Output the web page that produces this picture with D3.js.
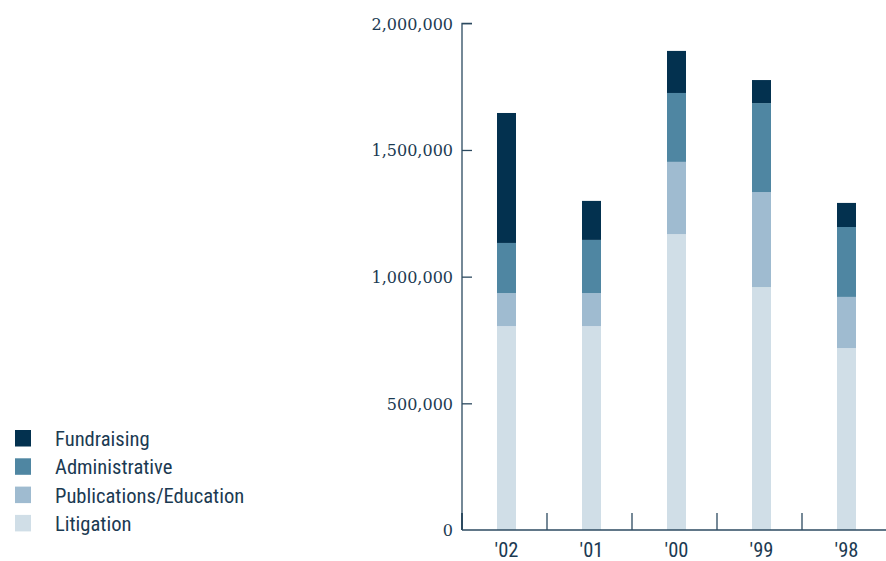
<!DOCTYPE html>
<html><head><meta charset="utf-8">
<script src="https://cdn.jsdelivr.net/npm/d3@7"></script>
<style>
body{margin:0;background:#fff;}
svg{display:block;}
</style></head>
<body>
<svg id="chart" width="886" height="561"></svg>
<script>
const years = ["'02","'01","'00","'99","'98"];
const seriesNames = ["Litigation","Publications/Education","Administrative","Fundraising"];
const litigation = [805000, 805000, 1168000, 959000, 718000];
const publications = [130000, 130000, 285000, 375000, 202000];
const administrative = [198000, 210000, 272000, 351000, 276000];
const fundraising = [513000, 154000, 166000, 91000, 95000];
const yTicks = [0, 500000, 1000000, 1500000, 2000000];
const colors = ["#d0dee7","#9fbbd0","#4f86a2","#03314f"];

const svg = d3.select("#chart");
const x0 = 462, x1 = 887, yBase = 530, yTop = 23.3;
const x = d3.scaleBand().domain(years).range([x0, x1]).paddingInner(0).paddingOuter(0);
const y = d3.scaleLinear().domain([0, 2000000]).range([yBase, yTop]);

const rows = years.map((yr,i)=>({year:yr, Litigation:litigation[i], "Publications/Education":publications[i], Administrative:administrative[i], Fundraising:fundraising[i]}));
const stack = d3.stack().keys(seriesNames)(rows);

const barW = 19;
svg.append("g").selectAll("g").data(stack).join("g")
  .attr("fill",(d,i)=>colors[i])
  .selectAll("rect").data(d=>d).join("rect")
  .attr("x", d=>x(d.data.year)+x.bandwidth()/2-barW/2+2)
  .attr("width", barW)
  .attr("y", d=>y(d[1]))
  .attr("height", d=>y(d[0])-y(d[1]));

const axisColor = "#2c4a60";
const textColor = "#1b3a52";
// y axis
const yAxis = svg.append("g").attr("transform",`translate(${x0},0)`)
  .call(d3.axisRight(y).tickValues(yTicks).tickSize(10).tickFormat(d3.format(",")));
yAxis.select(".domain").attr("stroke",axisColor).attr("stroke-width",1.3).attr("d",`M10,${yTop}H0V${yBase}`);
yAxis.selectAll(".tick line").attr("stroke",axisColor).attr("stroke-width",1.3);
yAxis.selectAll(".tick text").attr("x",-9).attr("text-anchor","end").attr("dy","0.36em")
  .attr("fill",textColor).style("font-family","'DejaVu Serif'").style("font-size","16px");
yAxis.selectAll(".tick").filter(d=>d===0).select("line").remove();

// x axis
const xAxis = svg.append("g").attr("transform",`translate(0,${yBase})`)
  .call(d3.axisBottom(x).tickSize(0).tickPadding(12));
xAxis.select(".domain").attr("stroke",axisColor).attr("stroke-width",1.6).attr("d",`M${x0},0H${x1}`);
xAxis.selectAll(".tick text").attr("fill",textColor).attr("dx","2")
  .style("font-family","'Liberation Sans Narrow','Roboto Condensed',sans-serif").style("font-size","20.5px").attr("dy","0.71em");
// separators
svg.append("g").selectAll("line").data(years.slice(1)).join("line")
  .attr("x1",d=>x(d)).attr("x2",d=>x(d)).attr("y1",yBase-17).attr("y2",yBase)
  .attr("stroke",axisColor).attr("stroke-width",1.3);
svg.append("line").attr("x1",x0).attr("x2",x0).attr("y1",yBase-17).attr("y2",yBase)
  .attr("stroke",axisColor).attr("stroke-width",2);

// legend
const legendItems = ["Fundraising","Administrative","Publications/Education","Litigation"];
const legendColors = ["#03314f","#4f86a2","#9fbbd0","#d0dee7"];
const lg = svg.append("g").selectAll("g").data(legendItems).join("g")
  .attr("transform",(d,i)=>`translate(15,${430+i*28.3})`);
lg.append("rect").attr("width",16).attr("height",16.5).attr("fill",(d,i)=>legendColors[i]);
lg.append("text").attr("x",40).attr("y",8.5).attr("dy","0.36em").text(d=>d)
  .attr("fill",textColor).style("font-family","'Liberation Sans Narrow','Roboto Condensed',sans-serif").style("font-size","20.6px");
</script>
</body></html>
